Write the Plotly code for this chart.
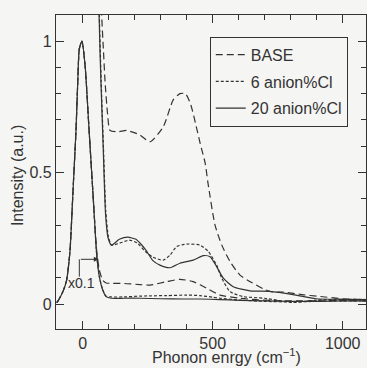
import plotly.graph_objects as go

# ---------------- data ----------------
# unscaled spectra
base_x = [66, 73, 80, 86, 96, 105, 137, 169, 220, 259, 310, 348, 374, 395, 415, 437, 452, 471, 482,
          509, 535, 567, 605, 644, 700, 733, 771, 850, 900, 1000, 1100]
base_y = [1.5, 1.1, 0.96, 0.845, 0.72, 0.66, 0.655, 0.66, 0.643, 0.617, 0.674, 0.776, 0.80, 0.80, 0.76,
          0.674, 0.61, 0.536, 0.459, 0.30, 0.224, 0.161, 0.11, 0.085, 0.055, 0.045, 0.045, 0.035, 0.03,
          0.02, 0.015]

cl6_x = [60, 64, 71, 80, 89, 99, 111, 141, 179, 210, 240, 270, 310, 336, 361, 400, 451, 483, 515, 535,
         567, 618, 700, 809, 900, 1000, 1100]
cl6_y = [1.5, 1.1, 0.85, 0.59, 0.35, 0.255, 0.224, 0.231, 0.243, 0.232, 0.2, 0.178, 0.167, 0.186, 0.218,
         0.228, 0.224, 0.2, 0.148, 0.098, 0.047, 0.028, 0.022, 0.006, 0.015, 0.018, 0.017]

cl20_x = [60, 63, 70, 79, 88, 98, 111, 141, 173, 205, 220, 243, 270, 297, 336, 374, 425, 464, 490, 515,
          541, 579, 644, 719, 809, 897, 1000, 1100]
cl20_y = [1.5, 1.1, 0.85, 0.59, 0.34, 0.25, 0.224, 0.246, 0.254, 0.246, 0.232, 0.205, 0.165, 0.148,
          0.138, 0.155, 0.167, 0.184, 0.18, 0.142, 0.098, 0.066, 0.05, 0.048, 0.036, 0.02, 0.018, 0.017]

# spectra scaled by 0.1 (elastic peak)
base01_x = [-100, -94, -75, -62, -49, -42, -36, -26, -19, -13, -3, 9, 24, 41, 54, 64, 77, 90, 110, 160,
            220, 259, 323, 374, 425, 477, 528, 605, 650, 733, 800, 900, 1000, 1100]
base01_y = [0.005, 0.013, 0.05, 0.09, 0.2, 0.33, 0.456, 0.655, 0.845, 0.97, 1.0, 0.91, 0.67, 0.395, 0.2,
            0.13, 0.09, 0.08, 0.079, 0.078, 0.074, 0.072, 0.085, 0.094, 0.085, 0.06, 0.034, 0.022,
            0.018, 0.013, 0.012, 0.012, 0.013, 0.012]

cl6_01_x = [-100, -94, -75, -62, -49, -42, -36, -26, -19, -13, -3, 9, 24, 41, 54, 64, 77, 90, 110, 160,
            220, 259, 323, 400, 451, 500, 528, 605, 700, 800, 900, 1000, 1100]
cl6_01_y = [0.005, 0.013, 0.05, 0.09, 0.2, 0.33, 0.456, 0.655, 0.845, 0.97, 1.0, 0.91, 0.67, 0.395, 0.186,
            0.104, 0.055, 0.03, 0.027, 0.027, 0.03, 0.031, 0.032, 0.034, 0.032, 0.026, 0.022, 0.015,
            0.01, 0.008, 0.01, 0.012, 0.012]

cl20_01_x = [-100, -94, -75, -62, -49, -42, -36, -26, -19, -13, -3, 9, 24, 41, 54, 64, 77, 90, 110, 160,
             220, 300, 387, 450, 528, 605, 700, 800, 900, 1000, 1100]
cl20_01_y = [0.005, 0.013, 0.05, 0.09, 0.2, 0.33, 0.456, 0.655, 0.845, 0.97, 1.0, 0.91, 0.67, 0.395, 0.186,
             0.104, 0.053, 0.028, 0.022, 0.022, 0.022, 0.02, 0.019, 0.019, 0.017, 0.014, 0.012, 0.01,
             0.01, 0.012, 0.012]

series_names = ["BASE", "6 anion%Cl", "20 anion%Cl"]
x_tick_vals = [0, 500, 1000]
y_tick_vals = [0, 0.5, 1]
y_tick_text = ["0", "0.5", "1"]

# ---------------- style ----------------
ink = "#333333"
bg = "#f5f5f3"
font = "Liberation Sans, Arial, sans-serif"
fs = 16
dash_base = "7px,4px"
dash_6 = "3px,2px"
lw = 1.2
x_range = [-102.7, 1089.6]
y_range = [-0.095, 1.099]

fig = go.Figure()

def add(x, y, name, dash, show):
    fig.add_trace(go.Scatter(
        x=x, y=y, name=name, mode="lines",
        line=dict(color=ink, width=lw, dash=dash, shape="spline", smoothing=0.6),
        showlegend=show, legendgroup=name, cliponaxis=True))

add(base_x, base_y, series_names[0], dash_base, True)
add(cl6_x, cl6_y, series_names[1], dash_6, True)
add(cl20_x, cl20_y, series_names[2], "solid", True)
add(base01_x, base01_y, series_names[0], dash_base, False)
add(cl6_01_x, cl6_01_y, series_names[1], dash_6, False)
add(cl20_01_x, cl20_01_y, series_names[2], "solid", False)

fig.update_layout(
    width=367, height=368,
    margin=dict(l=56, r=1, t=15, b=39),
    paper_bgcolor=bg, plot_bgcolor=bg,
    font=dict(family=font, size=fs, color=ink),
    legend=dict(x=0.496, y=0.931, xanchor="left", yanchor="top",
                bgcolor="rgba(0,0,0,0)", bordercolor=ink, borderwidth=1,
                font=dict(family=font, size=fs, color=ink),
                traceorder="grouped", tracegroupgap=3, itemwidth=30),
    showlegend=True,
)

fig.update_xaxes(range=x_range, tickmode="array", tickvals=x_tick_vals,
                 showgrid=False, zeroline=False, showline=True, linecolor=ink, linewidth=1.2,
                 mirror="allticks", ticks="inside", ticklen=8, tickwidth=1.2, tickcolor=ink,
                 tickfont=dict(family=font, size=fs, color=ink),
                 minor=dict(dtick=100, tick0=0, ticks="inside", ticklen=5, tickwidth=1.1,
                            tickcolor=ink, showgrid=False))
fig.update_yaxes(range=y_range, tickmode="array", tickvals=y_tick_vals, ticktext=y_tick_text,
                 showgrid=False, zeroline=False, showline=True, linecolor=ink, linewidth=1.2,
                 mirror="allticks", ticks="inside", ticklen=8, tickwidth=1.2, tickcolor=ink,
                 tickfont=dict(family=font, size=fs, color=ink),
                 minor=dict(dtick=0.1, tick0=0, ticks="inside", ticklen=5, tickwidth=1.1,
                            tickcolor=ink, showgrid=False))

# axis titles
fig.add_annotation(text="Phonon enrgy (cm<sup>−1</sup>)", xref="paper", yref="paper",
                   x=0.551, y=-0.1242, xanchor="center", yanchor="bottom", showarrow=False,
                   font=dict(family=font, size=fs, color=ink))
fig.add_annotation(text="Intensity (a.u.)", xref="paper", yref="paper",
                   x=-0.126, y=0.49, xanchor="center", yanchor="middle", textangle=-90,
                   showarrow=False, font=dict(family=font, size=fs, color=ink))

# x0.1 marker
fig.add_annotation(text="x0.1", xref="x", yref="y", x=-4, y=0.08, showarrow=False,
                   xanchor="center", yanchor="middle", font=dict(family=font, size=14, color=ink))
fig.add_annotation(text="", xref="x", yref="y", x=62, y=0.17, ax=-13, ay=0.17,
                   axref="x", ayref="y", showarrow=True, arrowhead=2, arrowsize=1,
                   arrowwidth=1, arrowcolor=ink, standoff=0)
fig.add_shape(type="line", xref="x", yref="y", x0=-13, x1=-13, y0=0.104, y1=0.17,
              line=dict(color=ink, width=1))

fig.write_html("out.html")
